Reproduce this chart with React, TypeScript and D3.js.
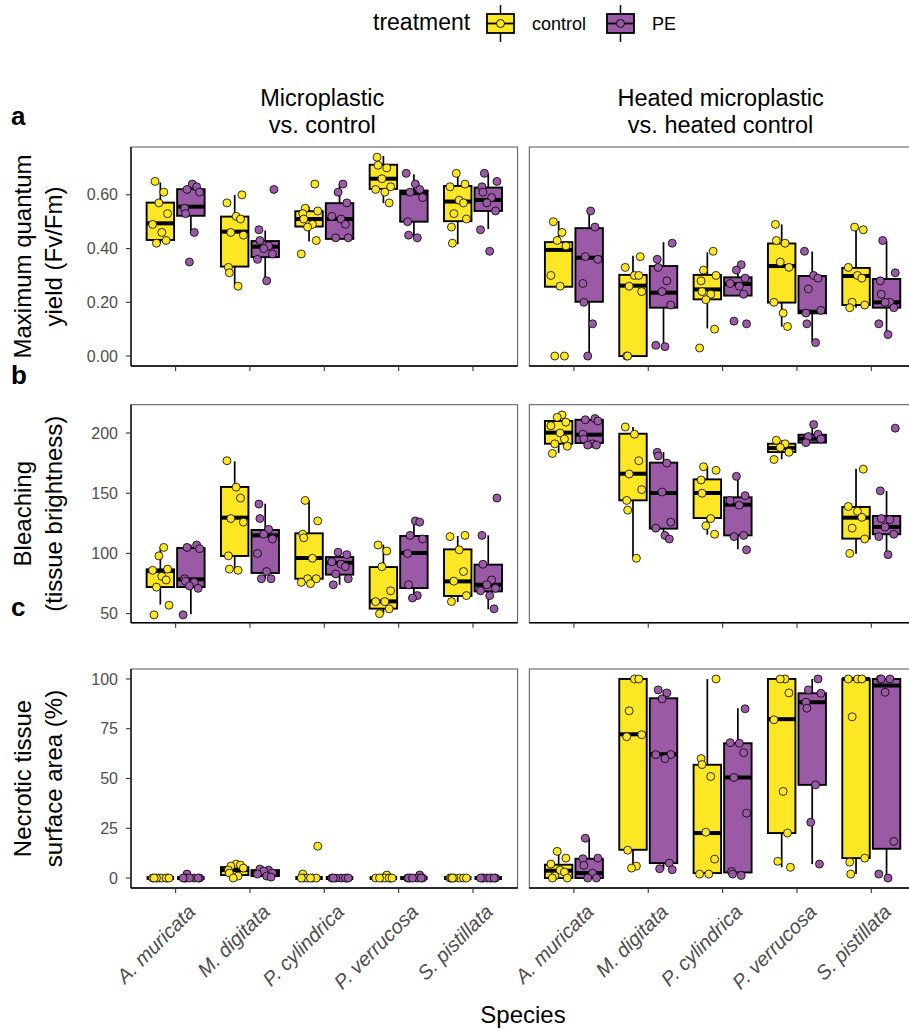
import React, { useEffect, useRef } from "react";
import * as d3 from "d3";

const species = ["A. muricata", "M. digitata", "P. cylindrica", "P. verrucosa", "S. pistillata"];
const facetTitles = [
  ["Microplastic", "vs. control"],
  ["Heated microplastic", "vs. heated control"],
];
const treatments = ["control", "PE"];

// box stats per species: [lower whisker, q1, median, q3, upper whisker]
const yieldBoxMpControl = [
  [0.42, 0.432, 0.494, 0.571, 0.646],
  [0.261, 0.333, 0.463, 0.519, 0.6],
  [0.426, 0.482, 0.51, 0.539, 0.556],
  [0.569, 0.622, 0.66, 0.712, 0.745],
  [0.416, 0.502, 0.575, 0.633, 0.677],
];
const yieldBoxMpPE = [
  [0.457, 0.522, 0.556, 0.621, 0.643],
  [0.283, 0.368, 0.407, 0.428, 0.467],
  [0.436, 0.436, 0.51, 0.569, 0.64],
  [0.445, 0.5, 0.606, 0.616, 0.677],
  [0.473, 0.54, 0.581, 0.627, 0.678],
];
const yieldBoxHeatControl = [
  [0.258, 0.258, 0.395, 0.424, 0.503],
  [0, 0, 0.262, 0.302, 0.373],
  [0.103, 0.211, 0.248, 0.302, 0.386],
  [0.109, 0.199, 0.335, 0.419, 0.49],
  [0.18, 0.19, 0.298, 0.328, 0.476],
];
const yieldBoxHeatPE = [
  [0, 0.202, 0.366, 0.476, 0.538],
  [0.035, 0.18, 0.236, 0.335, 0.424],
  [0.225, 0.225, 0.268, 0.293, 0.335],
  [0.053, 0.159, 0.165, 0.298, 0.389],
  [0.081, 0.18, 0.2, 0.287, 0.428],
];

// individual fragments
const yieldPtsMpControl = [
  [0.65, 0.61, 0.57, 0.53, 0.49, 0.46, 0.43, 0.42],
  [0.6, 0.57, 0.52, 0.51, 0.46, 0.45, 0.33, 0.31, 0.26],
  [0.64, 0.55, 0.54, 0.53, 0.51, 0.49, 0.48, 0.43, 0.38],
  [0.74, 0.71, 0.7, 0.66, 0.63, 0.62, 0.61, 0.57],
  [0.68, 0.64, 0.63, 0.58, 0.57, 0.53, 0.51, 0.48, 0.42],
];
const yieldPtsMpPE = [
  [0.64, 0.63, 0.62, 0.61, 0.55, 0.53, 0.46, 0.35],
  [0.62, 0.47, 0.43, 0.41, 0.4, 0.38, 0.36, 0.28],
  [0.64, 0.61, 0.57, 0.52, 0.51, 0.49, 0.44, 0.44],
  [0.68, 0.64, 0.62, 0.61, 0.59, 0.5, 0.45, 0.44],
  [0.68, 0.65, 0.63, 0.61, 0.59, 0.57, 0.54, 0.47, 0.39],
];
const yieldPtsHeatControl = [
  [0.5, 0.46, 0.43, 0.41, 0.3, 0.26, 0, 0],
  [0.37, 0.33, 0.3, 0.3, 0.26, 0.24, 0, 0],
  [0.39, 0.32, 0.3, 0.28, 0.24, 0.23, 0.21, 0.1, 0.03],
  [0.49, 0.43, 0.42, 0.35, 0.33, 0.2, 0.16, 0.11],
  [0.48, 0.47, 0.33, 0.3, 0.29, 0.2, 0.19, 0.18],
];
const yieldPtsHeatPE = [
  [0.54, 0.48, 0.37, 0.36, 0.27, 0.2, 0.12, 0],
  [0.42, 0.36, 0.33, 0.28, 0.24, 0.19, 0.04, 0.035],
  [0.34, 0.32, 0.29, 0.27, 0.26, 0.23, 0.13, 0.12],
  [0.39, 0.3, 0.29, 0.25, 0.17, 0.16, 0.12, 0.05],
  [0.43, 0.31, 0.28, 0.23, 0.2, 0.2, 0.18, 0.12, 0.08],
];

const bleachBoxMpControl = [
  [57.5, 72.1, 85.4, 86.8, 105.4],
  [86, 97.9, 129.7, 155.2, 176.5],
  [75, 79, 96.2, 116.7, 144],
  [50, 54.2, 60.2, 88.7, 107.3],
  [59.7, 64.7, 76.8, 103.4, 114.5],
];
const bleachBoxMpPE = [
  [49.5, 72.1, 78.5, 104.5, 107.3],
  [79, 83.8, 115, 119.5, 141.3],
  [74, 82.4, 92.3, 97, 101.2],
  [62.5, 71.3, 100.4, 114.5, 127],
  [53.6, 68.5, 74, 90.7, 115],
];
const bleachBoxHeatControl = [
  [183.4, 191.1, 200.3, 210, 215.2],
  [95.7, 144.1, 166.2, 199.4, 205],
  [115.6, 129.4, 150.2, 161.5, 172.3],
  [178.1, 184.2, 187.5, 191.1, 193.9],
  [99.8, 112.3, 129.7, 138.6, 170.4],
];
const bleachBoxHeatPE = [
  [189.8, 191.7, 198.6, 211, 211.9],
  [112.3, 120.6, 150.2, 175.4, 184.2],
  [103.4, 115, 140.5, 146.6, 164.3],
  [192, 192, 195.3, 198.6, 206.9],
  [99, 115.9, 122, 131.1, 151.8],
];

const bleachPtsMpControl = [
  [105, 98, 87, 86, 81, 78, 72, 57, 49],
  [177, 155, 146, 129, 126, 98, 87, 86],
  [144, 127, 116, 113, 96, 79, 79, 76, 75],
  [107, 102, 89, 69, 60, 60, 54, 50],
  [115, 114, 103, 85, 77, 65, 60],
];
const bleachPtsMpPE = [
  [107, 105, 104, 79, 77, 76, 73, 71, 49],
  [141, 129, 120, 116, 112, 100, 85, 79, 79],
  [101, 99, 93, 91, 89, 83, 79, 74],
  [127, 126, 115, 112, 100, 74, 65, 63],
  [146, 115, 91, 78, 74, 71, 69, 65, 54],
];
const bleachPtsHeatControl = [
  [215, 213, 209, 206, 200, 195, 191, 189, 183],
  [205, 199, 177, 166, 153, 144, 136, 96],
  [172, 169, 161, 150, 129, 123, 116],
  [194, 191, 188, 184, 178],
  [170, 139, 135, 130, 121, 112, 100],
];
const bleachPtsHeatPE = [
  [212, 211, 210, 199, 195, 191, 190, 190],
  [184, 181, 175, 151, 126, 121, 115, 112],
  [164, 148, 144, 140, 115, 114, 103],
  [207, 199, 197, 195, 192],
  [204, 152, 129, 128, 122, 116, 114, 99],
];

const necroBoxMpControl = [
  [0, 0, 0, 0, 0],
  [0, 1.5, 4, 5.5, 7],
  [0, 0, 0, 0, 0],
  [0, 0, 0, 0, 0],
  [0, 0, 0, 0, 0],
];
const necroBoxMpPE = [
  [0, 0, 0, 0, 0],
  [0, 1, 2.5, 4, 4.5],
  [0, 0, 0, 0, 0],
  [0, 0, 0, 0, 0],
  [0, 0, 0, 0, 0],
];
const necroBoxHeatControl = [
  [0, 0, 3.7, 6.7, 13.4],
  [5.9, 14.2, 72.2, 100, 100],
  [2.5, 2.5, 22.6, 56.9, 100],
  [5.4, 22.6, 79.8, 100, 100],
  [2, 10, 100, 100, 100],
];
const necroBoxHeatPE = [
  [0, 0, 2.5, 9.7, 20],
  [4.2, 7.5, 62.2, 90.3, 94.5],
  [2.8, 2.8, 50.5, 67.7, 85.3],
  [7, 46.8, 88.3, 92.8, 100],
  [0, 14.7, 96.7, 100, 100],
];

const necroPtsMpControl = [
  [0, 0, 0, 0, 0, 0, 0, 0],
  [7, 6.5, 6, 5, 4, 2.5, 1, 0],
  [16, 2, 0, 0, 0, 0, 0, 0],
  [1.5, 0, 0, 0, 0, 0, 0, 0],
  [0, 0, 0, 0, 0, 0, 0],
];
const necroPtsMpPE = [
  [2, 0, 0, 0, 0, 0, 0, 0],
  [4.5, 4, 3.5, 2.5, 2, 1, 0.5],
  [0, 0, 0, 0, 0, 0, 0],
  [1.5, 0, 0, 0, 0, 0, 0, 0],
  [0, 0, 0, 0, 0, 0, 0, 0],
];
const necroPtsHeatControl = [
  [13.4, 10, 7, 4, 3, 1, 0, 0],
  [100, 100, 84, 72, 71, 14, 6, 5],
  [100, 60, 57, 51, 23, 9.5, 2, 2],
  [100, 100, 93, 79.5, 43.5, 22.6, 8.4, 5.4],
  [100, 100, 100, 81, 10, 8, 2],
];
const necroPtsHeatPE = [
  [20, 10, 9.7, 6.4, 2.5, 0, 0],
  [94.5, 93, 90, 62, 62, 60, 7.5, 4.7, 4.2],
  [85, 68, 67.7, 63, 50.5, 32.6, 3.3, 2, 1.3],
  [100, 94.5, 92.8, 88.3, 85.3, 46.8, 28, 7],
  [100, 100, 100, 93.3, 18.4, 2, 0],
];

const yieldTicks = [0, 0.2, 0.4, 0.6];
const bleachTicks = [50, 100, 150, 200];
const necroTicks = [0, 25, 50, 75, 100];

const FONT = "'Liberation Sans', Arial, Helvetica, sans-serif";
const fills = { control: "#FDE725", PE: "#9A5AA6" };
const jitter = [-0.55, 0.35, -0.15, 0.75, -0.8, 0.15, 0.6, -0.4, 0.9, -0.65];

const rows = [
  {
    tag: "a", tagY: 125, title: ["Maximum quantum", "yield (Fv/Fm)"],
    top: 147, bottom: 366, domain: [-0.037, 0.778], ticks: yieldTicks, fmt: d3.format(".2f"),
    boxes: [[yieldBoxMpControl, yieldBoxMpPE], [yieldBoxHeatControl, yieldBoxHeatPE]],
    pts: [[yieldPtsMpControl, yieldPtsMpPE], [yieldPtsHeatControl, yieldPtsHeatPE]],
  },
  {
    tag: "b", tagY: 384, title: ["Bleaching", "(tissue brightness)"],
    top: 404.7, bottom: 622.7, domain: [42.5, 223.5], ticks: bleachTicks, fmt: d3.format("d"),
    boxes: [[bleachBoxMpControl, bleachBoxMpPE], [bleachBoxHeatControl, bleachBoxHeatPE]],
    pts: [[bleachPtsMpControl, bleachPtsMpPE], [bleachPtsHeatControl, bleachPtsHeatPE]],
  },
  {
    tag: "c", tagY: 616, title: ["Necrotic tissue", "surface area (%)"],
    top: 669, bottom: 888, domain: [-5, 105], ticks: necroTicks, fmt: d3.format("d"),
    boxes: [[necroBoxMpControl, necroBoxMpPE], [necroBoxHeatControl, necroBoxHeatPE]],
    pts: [[necroPtsMpControl, necroPtsMpPE], [necroPtsHeatControl, necroPtsHeatPE]],
  },
];

const cols = [
  { left: 131, right: 517.6 },
  { left: 529.3, right: 915.9 },
];

function App() {
  const ref = useRef<SVGSVGElement>(null);

  useEffect(() => {
    const svg = d3.select(ref.current);
    svg.selectAll("*").remove();
    svg.attr("font-family", FONT);

    // legend
    const leg = svg.append("g");
    leg.append("text").attr("x", 373).attr("y", 30).attr("font-size", 23).text("treatment");
    const keyX = [487, 607];
    treatments.forEach((t, i) => {
      const x0 = keyX[i];
      const cx = x0 + 13.5;
      leg.append("line").attr("x1", cx).attr("x2", cx).attr("y1", 5).attr("y2", 42)
        .attr("stroke", "#000").attr("stroke-width", 1.5);
      leg.append("rect").attr("x", x0).attr("y", 14).attr("width", 27).attr("height", 19)
        .attr("fill", fills[t]).attr("stroke", "#000").attr("stroke-width", 1.8);
      leg.append("line").attr("x1", x0).attr("x2", x0 + 27).attr("y1", 23.5).attr("y2", 23.5)
        .attr("stroke", "#000").attr("stroke-width", 1.8);
      leg.append("circle").attr("cx", cx).attr("cy", 23.5).attr("r", 4)
        .attr("fill", fills[t]).attr("stroke", "#000").attr("stroke-width", 0.9);
      leg.append("text").attr("x", x0 + 45).attr("y", 30).attr("font-size", 18).text(t);
    });

    // facet strip titles
    facetTitles.forEach((lines, ci) => {
      const cx = (cols[ci].left + cols[ci].right) / 2 - 2;
      lines.forEach((l, li) => {
        svg.append("text").attr("x", cx).attr("y", 106 + li * 27)
          .attr("text-anchor", "middle").attr("font-size", 23.5).text(l);
      });
    });

    rows.forEach((row, ri) => {
      const y = d3.scaleLinear().domain(row.domain).range([row.bottom, row.top]);
      const midY = (row.top + row.bottom) / 2;

      // tag
      svg.append("text").attr("x", 11).attr("y", row.tagY)
        .attr("font-size", 26).attr("font-weight", "bold").text(row.tag);

      // y title
      row.title.forEach((l, li) => {
        svg.append("text")
          .attr("transform", `translate(${31 + li * 31},${midY}) rotate(-90)`)
          .attr("text-anchor", "middle").attr("font-size", 24).text(l);
      });

      cols.forEach((col, ci) => {
        const x = d3.scalePoint().domain(species).range([col.left, col.right]).padding(0.6);
        const step = x.step();
        const dodge = d3.scaleBand().domain(treatments)
          .range([-0.39 * step, 0.39 * step]).paddingInner(0.1);
        const bw = dodge.bandwidth();
        const g = svg.append("g");

        g.append("rect").attr("x", col.left).attr("y", row.top)
          .attr("width", col.right - col.left).attr("height", row.bottom - row.top)
          .attr("fill", "#fff").attr("stroke", "#555").attr("stroke-width", 1);

        // boxes
        treatments.forEach((t, ti) => {
          const stats = row.boxes[ci][ti];
          species.forEach((s, si) => {
            const [lo, q1, med, q3, hi] = stats[si];
            const cx = (x(s) as number) + (dodge(t) as number) + bw / 2;
            const bg = g.append("g");
            bg.append("line").attr("x1", cx).attr("x2", cx).attr("y1", y(q3)).attr("y2", y(hi))
              .attr("stroke", "#000").attr("stroke-width", 1.7);
            bg.append("line").attr("x1", cx).attr("x2", cx).attr("y1", y(q1)).attr("y2", y(lo))
              .attr("stroke", "#000").attr("stroke-width", 1.7);
            bg.append("rect").attr("x", cx - bw / 2).attr("y", y(q3))
              .attr("width", bw).attr("height", Math.max(0, y(q1) - y(q3)))
              .attr("fill", fills[t]).attr("stroke", "#000").attr("stroke-width", 1.9);
            bg.append("line").attr("x1", cx - bw / 2).attr("x2", cx + bw / 2)
              .attr("y1", y(med)).attr("y2", y(med))
              .attr("stroke", "#000").attr("stroke-width", 4);
          });
        });

        // jittered fragments
        treatments.forEach((t, ti) => {
          const pts = row.pts[ci][ti];
          species.forEach((s, si) => {
            const cx = (x(s) as number) + (dodge(t) as number) + bw / 2;
            g.append("g").selectAll("circle")
              .data(pts[si])
              .join("circle")
              .attr("cx", (d, i) => cx + jitter[(i + si * 3 + ti * 5 + ri) % jitter.length] * 0.13 * step)
              .attr("cy", d => y(d))
              .attr("r", 4)
              .attr("fill", fills[t])
              .attr("stroke", "#000")
              .attr("stroke-width", 0.8);
          });
        });

        // axis lines
        g.append("line").attr("x1", col.left).attr("x2", col.right)
          .attr("y1", row.bottom).attr("y2", row.bottom)
          .attr("stroke", "#000").attr("stroke-width", 1.6);
        if (ci === 0) {
          g.append("line").attr("x1", col.left).attr("x2", col.left)
            .attr("y1", row.top).attr("y2", row.bottom)
            .attr("stroke", "#000").attr("stroke-width", 1.3);
          row.ticks.forEach(tk => {
            g.append("line").attr("x1", col.left - 5).attr("x2", col.left)
              .attr("y1", y(tk)).attr("y2", y(tk)).attr("stroke", "#333").attr("stroke-width", 1.1);
            g.append("text").attr("x", col.left - 13).attr("y", y(tk)).attr("dy", "0.35em")
              .attr("text-anchor", "end").attr("font-size", 16).attr("fill", "#4D4D4D")
              .text(row.fmt(tk));
          });
        }
        species.forEach(s => {
          const tx = x(s) as number;
          g.append("line").attr("x1", tx).attr("x2", tx)
            .attr("y1", row.bottom).attr("y2", row.bottom + 5)
            .attr("stroke", "#333").attr("stroke-width", 1.1);
          if (ri === rows.length - 1) {
            g.append("text")
              .attr("transform", `translate(${tx + 11},${row.bottom + 15}) rotate(-45)`)
              .attr("dy", "0.71em").attr("text-anchor", "end")
              .attr("font-size", 20).attr("font-style", "italic").attr("fill", "#4D4D4D")
              .text(s);
          }
        });
      });
    });

    svg.append("text").attr("x", 523).attr("y", 1023).attr("text-anchor", "middle")
      .attr("font-size", 24).text("Species");
  }, []);

  return (
    <svg
      ref={ref}
      width={909}
      height={1029}
      style={{ position: "absolute", left: 0, top: 0, background: "#fff" }}
    />
  );
}

export default App;
